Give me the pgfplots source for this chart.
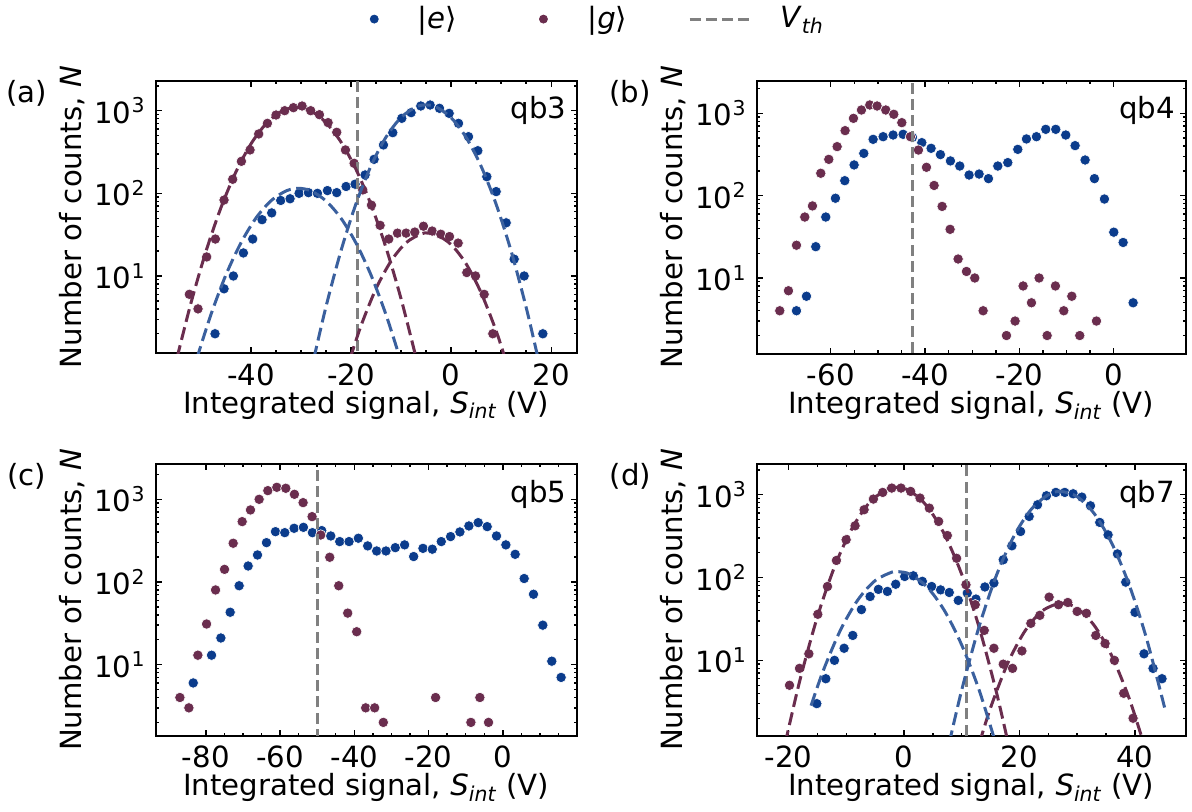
\documentclass[border=0pt]{standalone}
\usepackage{fontspec}
\setmainfont{DejaVu Sans}
\usepackage{pgfplots}
\pgfplotsset{compat=1.18}

\definecolor{cE}{RGB}{11,60,140}
\definecolor{cG}{RGB}{106,45,78}
\definecolor{fE}{RGB}{58,96,158}
\definecolor{fG}{RGB}{106,45,78}
\definecolor{cV}{RGB}{128,128,128}

\newcommand{\xlab}{Integrated signal, \textit{S}\textsubscript{\textit{int}} (V)}
\newcommand{\ylab}{Number of counts, \textit{N}}

\tikzset{
  emark/.style={only marks, mark=*, mark size=2.6pt, color=cE,
    mark options={draw=white, line width=0.3pt, fill=cE}},
  gmark/.style={only marks, mark=*, mark size=2.6pt, color=cG,
    mark options={draw=white, line width=0.3pt, fill=cG}},
  vth/.style={cV, line width=1.4pt, dash pattern=on 5.5pt off 2.6pt},
  fitE/.style={smooth, fE, line width=1.5pt, dash pattern=on 6.5pt off 2.8pt},
  fitG/.style={smooth, fG, line width=1.5pt, dash pattern=on 6.5pt off 2.8pt},
}

\begin{document}
\fontsize{14.6}{17.5}\selectfont
\begin{tikzpicture}
\path[use as bounding box] (0pt,0pt) rectangle (596pt,405.5pt);

% ---------------- (a) qb3 ----------------
\begin{axis}[scale only axis, anchor=south west, ymode=log, clip mode=individual,
  axis line style={line width=1pt}, tick style={black, line width=0.7pt},
  major tick length=3pt, minor tick length=1.6pt, minor x tick num=3,
  ytick={10,100,1000}, yticklabels={10\textsuperscript{1},10\textsuperscript{2},10\textsuperscript{3}},
  minor ytick={2,3,4,5,6,7,8,9,20,30,40,50,60,70,80,90,200,300,400,500,600,700,800,900,2000},
  xlabel={\xlab}, ylabel={\ylab},
  every axis x label/.style={at={(axis description cs:0.5,-0.22)}, anchor=base},
  every axis y label/.style={at={(axis description cs:-0.176,0.5)}, rotate=90, anchor=base},
  at={(77.85pt,228.85pt)}, width=210.5pt, height=136.3pt,
  xmin=-59.06, xmax=25.1, ymin=1.16, ymax=2306,
  xtick={-40,-20,0,20}, xticklabels={-40,-20,0,20},
  legend columns=3,
  legend style={draw=none, fill=none, at={(axis description cs:1.053,1.226)}, anchor=center},
]
\addlegendimage{only marks, mark=*, mark size=2pt, color=cE, mark options={fill=cE}}
\addlegendentry{\rule{17.5pt}{0pt}|\textit{e}⟩\rule{39.5pt}{0pt}}
\addlegendimage{only marks, mark=*, mark size=2pt, color=cG, mark options={fill=cG}}
\addlegendentry{\rule{18pt}{0pt}|\textit{g}⟩\rule{28.5pt}{0pt}}
\addlegendimage{vth, legend image post style={xscale=1.82}}
\addlegendentry{\rule{11.5pt}{0pt}\textit{V}\textsubscript{\textit{th}}}
\addplot[emark, forget plot] table {
-47.20 2
-45.40 7
-43.53 10
-41.53 19
-39.67 28
-37.80 48
-35.87 58
-34.07 82
-32.20 86
-30.40 100
-28.53 102
-26.73 100
-24.73 108
-22.87 102
-21.00 121
-19.20 129
-17.20 167
-15.40 258
-13.53 385
-11.67 542
-9.87 809
-8.00 947
-6.07 1140
-4.20 1172
-2.33 1069
-0.40 929
1.47 703
3.47 485
5.33 328
7.13 159
9.00 105
11.00 44
12.60 16
14.60 10
18.33 2
};
\addplot[gmark, forget plot] table {
-52.33 6
-50.60 4
-48.87 17
-47.13 28
-45.40 83
-43.67 148
-41.93 244
-40.20 335
-38.47 523
-36.73 703
-35.00 887
-33.27 1000
-31.53 1088
-29.80 1140
-28.07 1000
-26.33 895
-24.60 717
-22.87 548
-21.13 335
-19.40 231
-17.67 110
-15.93 72
-14.20 41
-12.47 28
-10.73 33
-9.00 33
-7.27 34
-5.53 40
-3.80 35
-2.07 32
-0.33 30
1.40 25
3.13 11
4.87 10
6.60 6
8.33 2
};
\addplot[vth, no marks, forget plot] coordinates {(-18.7,0.5) (-18.7,5000)};
% Gaussian fits (log scale)
\addplot[fitG, no marks, forget plot] coordinates {(-54.8,1.02) (-52,4.74) (-49,19.95) (-46,67.5) (-43,183) (-40,398) (-37,695) (-34,975) (-31,1096) (-28,989) (-25,716) (-22,416) (-19,194) (-16,72.6) (-13,21.8) (-10,5.26) (-7,1.02)};
\addplot[fitG, no marks, forget plot] coordinates {(-20.2,1.0) (-18,2.52) (-15,7.06) (-12,15.2) (-9,25.3) (-6,32.3) (-4.7,33.1) (-3,31.8) (0,24.0) (3,14.0) (6,6.25) (9,2.16) (10.8,1.0)};
\addplot[fitE, no marks, forget plot] coordinates {(-27.45,1.0) (-25,4.3) (-22,20.4) (-19,75.5) (-16,216) (-13,481) (-10,830) (-7,1112) (-5,1175) (-3,1109) (0,822) (3,474) (6,212) (9,73.6) (12,19.9) (15,4.16) (17.39,1.0)};
\addplot[fitE, no marks, forget plot] coordinates {(-50.85,1.0) (-48,3.44) (-45,10.4) (-42,25.3) (-39,50.4) (-36,81.4) (-33,107) (-30.5,115) (-28,107) (-25,80.7) (-22,49.8) (-19,24.9) (-16,10.2) (-13,3.37) (-10.21,1.0)};
\node[anchor=base east, inner sep=0pt] at (rel axis cs:0.976,0.86) {qb3};
\node at (rel axis cs:-0.306,0.955) {(a)};
\end{axis}

% ---------------- (b) qb4 ----------------
\begin{axis}[scale only axis, anchor=south west, ymode=log, clip mode=individual,
  axis line style={line width=1pt}, tick style={black, line width=0.7pt},
  major tick length=3pt, minor tick length=1.6pt, minor x tick num=3,
  ytick={10,100,1000}, yticklabels={10\textsuperscript{1},10\textsuperscript{2},10\textsuperscript{3}},
  minor ytick={2,3,4,5,6,7,8,9,20,30,40,50,60,70,80,90,200,300,400,500,600,700,800,900,2000},
  xlabel={\xlab}, ylabel={\ylab},
  every axis x label/.style={at={(axis description cs:0.5,-0.22)}, anchor=base},
  every axis y label/.style={at={(axis description cs:-0.173,0.5)}, rotate=90, anchor=base},
  at={(378.35pt,228.75pt)}, width=214.5pt, height=136.4pt,
  xmin=-75.7, xmax=15.25, ymin=1.21, ymax=2490,
  xtick={-60,-40,-20,0}, xticklabels={-60,-40,-20,0},
]
\addplot[emark] table {
-67.27 4
-65.15 6
-63.18 24
-61.06 55
-59.01 93
-57.03 152
-55.05 236
-53.00 326
-51.02 483
-48.90 520
-46.78 545
-44.66 556
-42.68 511
-40.70 440
-38.73 376
-36.75 315
-34.63 264
-32.65 229
-30.67 178
-28.55 183
-26.57 161
-24.59 229
-22.47 252
-20.35 365
-18.51 488
-16.39 520
-14.42 639
-12.30 639
-10.18 545
-8.20 405
-6.08 271
-4.10 161
-1.98 91
0.00 36
1.98 27
4.10 5
};
\addplot[gmark] table {
-70.81 4
-68.97 7
-67.27 25
-65.51 55
-63.88 75
-62.12 187
-60.42 276
-58.65 394
-56.96 616
-55.19 869
-53.49 1097
-51.73 1262
-50.17 1227
-48.34 1097
-46.64 973
-44.94 770
-43.11 520
-41.41 358
-39.71 221
-38.09 133
-36.39 74
-34.70 39
-33.00 17
-31.23 12
-29.47 10
-27.70 4
-22.75 2
-20.92 3
-19.22 8
-17.45 5
-15.83 10
-14.13 2
-12.37 8
-10.60 4
-8.90 6
-7.21 2
-3.67 3
};
\addplot[vth, no marks] coordinates {(-42.7,0.5) (-42.7,5000)};
\node[anchor=base east, inner sep=0pt] at (rel axis cs:0.976,0.86) {qb4};
\node at (rel axis cs:-0.295,0.955) {(b)};
\end{axis}

% ---------------- (c) qb5 ----------------
\begin{axis}[scale only axis, anchor=south west, ymode=log, clip mode=individual,
  axis line style={line width=1pt}, tick style={black, line width=0.7pt},
  major tick length=3pt, minor tick length=1.6pt, minor x tick num=3,
  ytick={10,100,1000}, yticklabels={10\textsuperscript{1},10\textsuperscript{2},10\textsuperscript{3}},
  minor ytick={2,3,4,5,6,7,8,9,20,30,40,50,60,70,80,90,200,300,400,500,600,700,800,900,2000},
  xlabel={\xlab}, ylabel={\ylab},
  every axis x label/.style={at={(axis description cs:0.5,-0.221)}, anchor=base},
  every axis y label/.style={at={(axis description cs:-0.176,0.5)}, rotate=90, anchor=base},
  at={(77.85pt,37.65pt)}, width=210.5pt, height=135.85pt,
  xmin=-93.5, xmax=19.9, ymin=1.38, ymax=2673,
  xtick={-80,-60,-40,-20,0,20}, xticklabels={-80,-60,-40,-20,0,20},
]
\addplot[emark] table {
-83.39 6
-78.46 13
-75.95 21
-73.44 43
-71.02 90
-68.60 156
-66.08 212
-63.66 299
-61.24 406
-58.73 395
-56.22 446
-53.71 458
-51.29 395
-48.78 418
-46.35 360
-43.93 308
-41.42 308
-38.91 338
-36.40 273
-33.98 237
-31.47 237
-28.96 260
-26.45 281
-24.02 203
-21.51 255
-19.00 249
-16.58 308
-14.07 354
-11.56 403
-9.14 476
-6.63 522
-4.21 467
-1.70 360
0.82 281
3.33 216
5.75 110
8.26 71
10.77 30
13.19 11
15.70 7
};
\addplot[gmark] table {
-86.98 4
-84.56 3
-82.14 13
-79.80 31
-77.38 80
-74.96 142
-72.63 294
-70.21 537
-67.97 743
-65.64 1000
-63.30 1273
-60.88 1397
-58.46 1359
-56.13 1149
-53.80 911
-51.38 617
-49.05 370
-46.62 199
-44.20 90
-41.78 42
-39.36 25
-36.94 3
-34.52 3
-32.19 2
-18.11 4
-8.60 2
-6.18 4
-3.85 2
};
\addplot[vth, no marks] coordinates {(-50,0.5) (-50,5000)};
\node[anchor=base east, inner sep=0pt] at (rel axis cs:0.976,0.86) {qb5};
\node at (rel axis cs:-0.306,0.955) {(c)};
\end{axis}

% ---------------- (d) qb7 ----------------
\begin{axis}[scale only axis, anchor=south west, ymode=log, clip mode=individual,
  axis line style={line width=1pt}, tick style={black, line width=0.7pt},
  major tick length=3pt, minor tick length=1.6pt, minor x tick num=3,
  ytick={10,100,1000}, yticklabels={10\textsuperscript{1},10\textsuperscript{2},10\textsuperscript{3}},
  minor ytick={2,3,4,5,6,7,8,9,20,30,40,50,60,70,80,90,200,300,400,500,600,700,800,900,2000},
  xlabel={\xlab}, ylabel={\ylab},
  every axis x label/.style={at={(axis description cs:0.5,-0.221)}, anchor=base},
  every axis y label/.style={at={(axis description cs:-0.173,0.5)}, rotate=90, anchor=base},
  at={(378.5pt,37.65pt)}, width=214.35pt, height=135.85pt,
  xmin=-25.47, xmax=48.8, ymin=1.23, ymax=2351,
  xtick={-20,0,20,40}, xticklabels={-20,0,20,40},
]
\addplot[emark] table {
-15.11 3
-13.55 6
-12.05 10
-10.38 14
-8.88 20
-7.38 41
-5.88 59
-4.44 72
-2.88 68
-1.44 83
0.12 103
1.61 105
3.17 90
4.79 78
6.34 71
7.84 66
9.40 53
10.96 65
12.46 55
14.01 77
15.57 86
17.19 164
18.69 242
20.19 360
21.68 547
23.13 757
24.68 973
26.30 1067
27.85 1067
29.30 1028
30.80 937
32.30 736
33.91 463
35.35 328
36.97 193
38.41 88
40.02 38
41.58 12
43.14 8
44.69 6
};
\addplot[gmark] table {
-19.84 5
-18.11 8
-16.49 12
-14.94 36
-13.26 78
-11.71 161
-10.03 286
-8.48 422
-6.92 659
-5.31 887
-3.69 1067
-2.13 1204
-0.52 1204
1.15 1097
2.77 912
4.38 690
6.00 476
7.50 322
9.11 171
10.73 82
12.34 47
13.90 23
15.57 14
17.19 9
18.80 8
20.42 13
21.97 28
23.53 35
25.14 58
26.76 47
28.37 50
29.99 39
31.60 37
33.22 20
34.83 16
36.45 10
38.06 4
39.68 2
};
\addplot[vth, no marks] coordinates {(10.85,0.5) (10.85,5000)};
\addplot[fitG, no marks] coordinates {(-20.58,1.0) (-18,5.9) (-15,33.7) (-12,137) (-9,393) (-6,803) (-3,1161) (-1.27,1230) (1,1115) (4,724) (7,333) (10,109) (13,25.2) (16,4.14) (18.04,1.0)};
\addplot[fitG, no marks] coordinates {(13.06,1.0) (15,2.69) (18,9.33) (21,22.9) (24,39.8) (27.28,49) (30,42.5) (33,26.1) (36,11.3) (39,3.48) (41.5,1.0)};
\addplot[fitE, no marks] coordinates {(7.83,1.0) (10,4.4) (13,25.5) (16,106) (19,313) (22,662) (25,1002) (27.2,1096) (30,948) (33,586) (36,259) (39,81.7) (42,18.5) (45.33,2.39)};
\addplot[fitE, no marks] coordinates {(-16.1,2.84) (-14,7.5) (-11,23.3) (-8,53.7) (-5,91.9) (-2,117) (-1.1,118) (1,110) (4,76.9) (7,39.9) (10,15.3) (13,4.4) (15.87,1.0)};
\node[anchor=base east, inner sep=0pt] at (rel axis cs:0.976,0.86) {qb7};
\node at (rel axis cs:-0.295,0.955) {(d)};
\end{axis}
\end{tikzpicture}
\end{document}
